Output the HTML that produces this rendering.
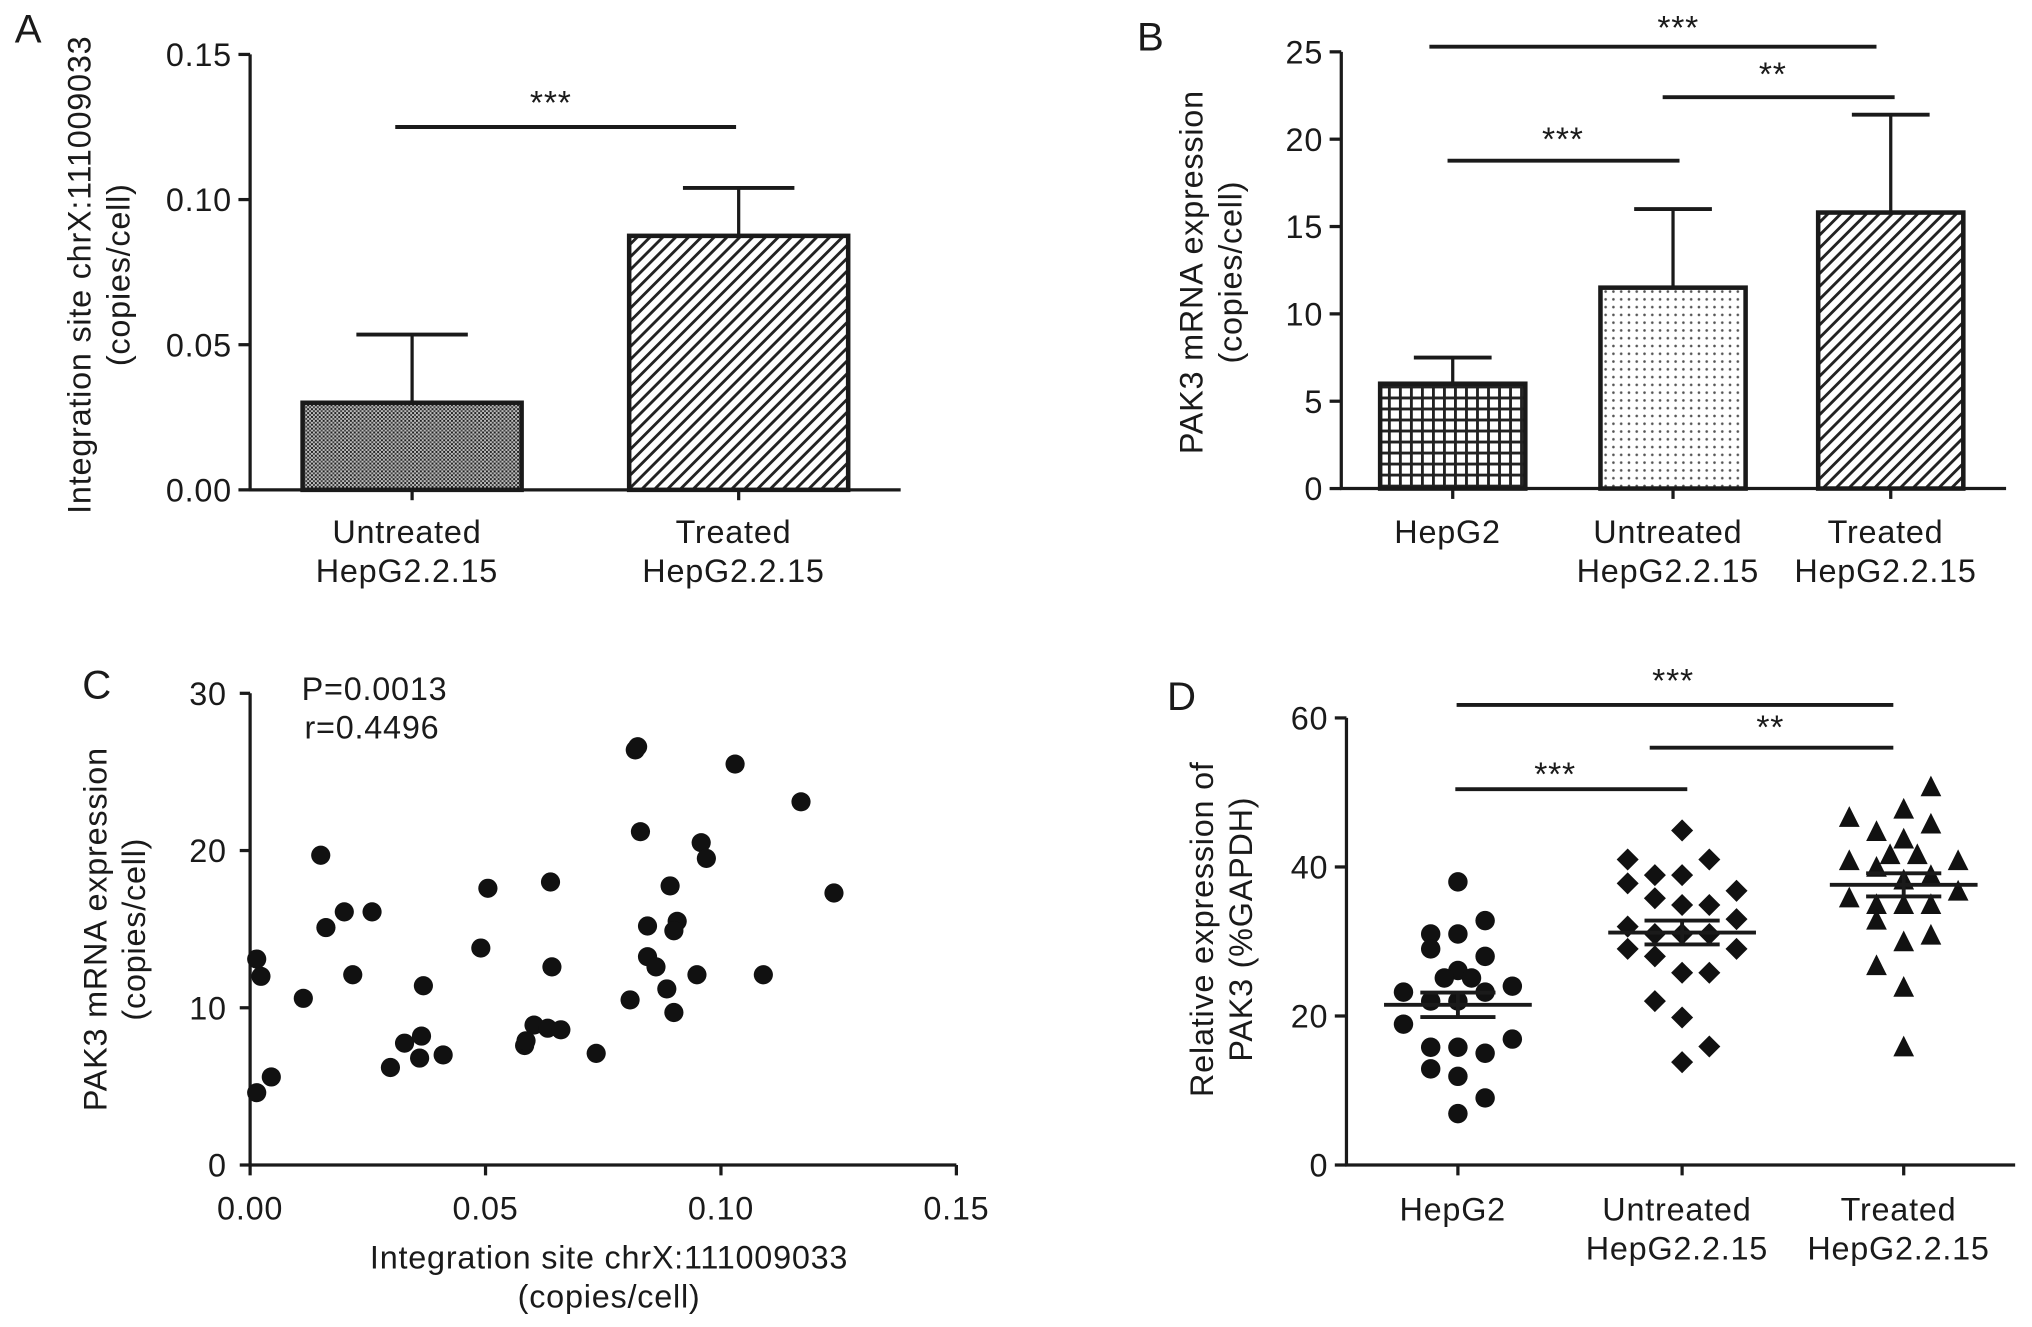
<!DOCTYPE html>
<html><head><meta charset="utf-8"><style>
html,body{margin:0;padding:0;background:#fff}
svg{display:block}
text{font-family:"Liberation Sans",Arial,sans-serif;fill:#1a1a1a;letter-spacing:0.6px}
</style></head><body>
<svg id="fig" width="2032" height="1327" viewBox="0 0 1568 1024" preserveAspectRatio="none" xmlns="http://www.w3.org/2000/svg">
<defs>
<pattern id="pCross" width="3" height="3" patternUnits="userSpaceOnUse"><rect width="3" height="3" fill="#bbb"/><rect x="0" y="0" width="1.5" height="1.5" fill="#222"/><rect x="1.5" y="1.5" width="1.5" height="1.5" fill="#444"/></pattern>
<pattern id="pDiag" width="7" height="7" patternUnits="userSpaceOnUse" patternTransform="rotate(45)"><rect width="7" height="7" fill="#fff"/><rect width="2.2" height="7" fill="#222"/></pattern>
<pattern id="pGrid" width="8.5" height="8.5" patternUnits="userSpaceOnUse"><rect width="8.5" height="8.5" fill="#fff"/><rect width="2.2" height="8.5" fill="#222"/><rect width="8.5" height="2.2" fill="#222"/></pattern>
<pattern id="pDots" width="6" height="6" patternUnits="userSpaceOnUse"><rect width="6" height="6" fill="#fff"/><circle cx="3" cy="3" r="1" fill="#555"/></pattern>
</defs>
</svg>
<script>
// Panel A data
const aCats = [["Untreated","HepG2.2.15"],["Treated","HepG2.2.15"]];
const aMeans = [0.030, 0.0875];
const aErr = [0.0235, 0.0165];
const aTicks = [0, 0.05, 0.10, 0.15];
const aTickLabels = ["0.00","0.05","0.10","0.15"];
// Panel B data
const bCats = [["HepG2"],["Untreated","HepG2.2.15"],["Treated","HepG2.2.15"]];
const bMeans = [6.0, 11.5, 15.8];
const bErr = [1.5, 4.5, 5.6];
const bTicks = [0,5,10,15,20,25];
// Panel C data
const cX = [0.0014,0.0045,0.0014,0.0023,0.0113,0.015,0.0161,0.020,0.0218,0.0259,0.0298,0.0328,0.0364,0.036,0.0368,0.041,0.049,0.0505,0.0583,0.0586,0.0603,0.0632,0.066,0.0638,0.0641,0.0735,0.0807,0.0818,0.0823,0.0829,0.0844,0.0844,0.0862,0.0885,0.0892,0.0907,0.090,0.090,0.0949,0.0958,0.0969,0.103,0.109,0.117,0.124];
const cY = [4.6,5.6,13.1,12.0,10.6,19.7,15.1,16.1,12.1,16.1,6.2,7.75,8.2,6.8,11.4,7.0,13.8,17.6,7.6,7.9,8.9,8.7,8.6,18.0,12.6,7.1,10.5,26.4,26.6,21.2,15.2,13.25,12.6,11.2,17.75,15.5,14.9,9.7,12.1,20.5,19.5,25.5,12.1,23.1,17.3];
const cXTicks = [0,0.05,0.10,0.15];
const cXTickLabels = ["0.00","0.05","0.10","0.15"];
const cYTicks = [0,10,20,30];
// Panel D data
const dCats = [["HepG2"],["Untreated","HepG2.2.15"],["Treated","HepG2.2.15"]];
const dHepG2 = [38.0,32.8,31.0,31.0,29.0,28.0,26.1,25.1,25.1,24.0,23.2,23.2,22.0,22.0,18.9,16.9,15.8,15.8,15.0,12.9,11.9,9.0,6.9];
const dHepG2Jit = [0,1,-1,0,-1,1,0,-0.5,0.5,2,-2,1,-1,0,-2,2,-1,0,1,-1,0,1,0];
const dUnt = [44.9,41.0,41.0,37.8,38.9,38.9,36.8,35.8,34.9,34.9,33.0,32.0,31.0,31.0,31.0,29.0,29.0,28.0,25.8,25.8,22.0,19.8,15.9,13.8];
const dUntJit = [0,-2,1,-2,-1,0,2,-1,0,1,2,-2,1,-1,0,-2,2,-1,0,1,-1,0,1,0];
const dTrt = [50.7,47.7,46.6,45.7,44.7,43.7,41.6,41.6,40.8,40.8,39.9,38.8,38.2,35.8,36.7,34.9,34.9,34.9,32.8,30.8,29.9,26.7,23.8,15.8];
const dTrtJit = [1,0,-2,1,-1,0,-0.5,0.5,-2,2,-1,1,0,-2,2,-1,0,1,-1,1,0,-1,0,0];
const dMeans = [21.5,31.2,37.6];
const dSem = [1.65,1.6,1.55];
const dTicks = [0,20,40,60];

const FS = 25, TS = 25;
const svg = document.getElementById('fig');
const NS = 'http://www.w3.org/2000/svg';
function mk(tag, attrs, parent){const e=document.createElementNS(NS,tag);for(const k in attrs)e.setAttribute(k,attrs[k]);(parent||svg).appendChild(e);return e;}
function txt(s,x,y,size,anchor,parent,rot){const t=mk('text',{x:x,y:y,'font-size':size,'text-anchor':anchor||'middle'},parent);if(rot)t.setAttribute('transform','rotate(-90 '+x+' '+y+')');t.textContent=s;return t;}
function line(x1,y1,x2,y2,w,parent){return mk('line',{x1:x1,y1:y1,x2:x2,y2:y2,stroke:'#1a1a1a','stroke-width':w||2.5},parent);}
function lin(d0,d1,r0,r1){return v=>r0+(v-d0)/(d1-d0)*(r1-r0);}
function stars(s,x,y,g){const t=txt(s,x,y,26,'middle',g);t.setAttribute('fill','#555');t.setAttribute('letter-spacing','3px');return t;}

// ---------- Panel A ----------
{
const g=mk('g',{});


const y=lin(0,0.15,378,42), x0=193, x1=695;
txt('A',22,33,31,'middle',g);
line(x0,42,x0,379,2.5,g); line(x0-1,378,x1,378,2.5,g);
aTicks.forEach((t,i)=>{line(x0-9,y(t),x0,y(t),2.5,g);txt(aTickLabels[i],x0-14,y(t)+9,FS,'end',g);});
const cx=[318,570], bw=169, fills=['url(#pCross)','url(#pDiag)'];
aMeans.forEach((m,i)=>{
  const top=y(aMeans[i]), et=y(aMeans[i]+aErr[i]);
  line(cx[i],top,cx[i],et,2.5,g); line(cx[i]-43,et,cx[i]+43,et,3,g);
  const r=mk('rect',{x:cx[i]-bw/2,y:top,width:bw,height:378-top,fill:fills[i],stroke:'#1a1a1a','stroke-width':3.5},g);
  
  
  line(cx[i],378,cx[i],386,2.5,g);
  aCats[i].forEach((s,k)=>txt(s,cx[i]-4,419+k*30,FS,'middle',g));
});
line(305,98,568,98,3,g); stars('***',425,88,g);
txt('Integration site chrX:111009033',70,212,TS,'middle',g,true);
txt('(copies/cell)',100,212,TS,'middle',g,true);
}
// ---------- Panel B ----------
{
const g=mk('g',{});


const y=lin(0,25,377,40), x0=1035, x1=1548;
txt('B',888,39,31,'middle',g);
line(x0,40,x0,378,2.5,g); line(x0-1,377,x1,377,2.5,g);
bTicks.forEach(t=>{line(x0-9,y(t),x0,y(t),2.5,g);txt(String(t),x0-14,y(t)+9,FS,'end',g);});
const cx=[1121,1291,1459], bw=112, fills=['url(#pGrid)','url(#pDots)','url(#pDiag)'];
bMeans.forEach((m,i)=>{
  const top=y(m), et=y(m+bErr[i]);
  line(cx[i],top,cx[i],et,2.5,g); line(cx[i]-30,et,cx[i]+30,et,3,g);
  const r=mk('rect',{x:cx[i]-bw/2,y:top,width:bw,height:377-top,fill:fills[i],stroke:'#1a1a1a','stroke-width':3.5},g);
  
  
  line(cx[i],377,cx[i],385,2.5,g);
  bCats[i].forEach((s,k)=>txt(s,cx[i]-4,419+k*30,FS,'middle',g));
});
line(1103,36,1448,36,3,g); stars('***',1295,30,g);
line(1283,75,1462,75,3,g); stars('**',1368,66,g);
line(1117,124,1296,124,3,g); stars('***',1206,116,g);
txt('PAK3 mRNA expression',928,210,TS,'middle',g,true);
txt('(copies/cell)',958,210,TS,'middle',g,true);
}
// ---------- Panel C ----------
{
const g=mk('g',{});


const x=lin(0,0.15,193,738), y=lin(0,30,899,535);
txt('C',75,539,31,'middle',g);
line(193,535,193,900,2.5,g); line(192,899,738,899,2.5,g);
cYTicks.forEach(t=>{line(185,y(t),193,y(t),2.5,g);txt(String(t),175,y(t)+9,FS,'end',g);});
cXTicks.forEach((t,i)=>{line(x(t),899,x(t),907,2.5,g);txt(cXTickLabels[i],x(t),941,FS,'middle',g);});
cX.forEach((v,i)=>{const c=mk('circle',{cx:x(v),cy:y(cY[i]),r:7.4,fill:'#111'},g);
  
  });
txt('P=0.0013',289,540,FS,'middle',g); txt('r=0.4496',287,570,FS,'middle',g);
txt('Integration site chrX:111009033',470,979,TS,'middle',g);
txt('(copies/cell)',470,1009,TS,'middle',g);
txt('PAK3 mRNA expression',82,717,TS,'middle',g,true);
txt('(copies/cell)',112,717,TS,'middle',g,true);
}
// ---------- Panel D ----------
{
const g=mk('g',{});


const y=lin(0,60,899,554), x0=1039, x1=1555;
txt('D',912,548,31,'middle',g);
line(x0,554,x0,900,2.5,g); line(x0-1,899,x1,899,2.5,g);
dTicks.forEach(t=>{line(x0-9,y(t),x0,y(t),2.5,g);txt(String(t),x0-14,y(t)+9,FS,'end',g);});
const cx=[1125,1298,1469], jw=21;
dCats.forEach((c,i)=>{line(cx[i],899,cx[i],907,2.5,g);c.forEach((s,k)=>txt(s,cx[i]-4,942+k*30,FS,'middle',g));});
dHepG2.forEach((v,i)=>{const e=mk('circle',{cx:cx[0]+dHepG2Jit[i]*jw,cy:y(v),r:7.5,fill:'#111'},g);
  
  });
dUnt.forEach((v,i)=>{const px=cx[1]+dUntJit[i]*jw,py=y(v),s=8.5;
  const e=mk('polygon',{points:`${px},${py-s} ${px+s},${py} ${px},${py+s} ${px-s},${py}`,fill:'#111'},g);
  
  });
dTrt.forEach((v,i)=>{const px=cx[2]+dTrtJit[i]*jw,py=y(v),s=8;
  const e=mk('polygon',{points:`${px},${py-s-1} ${px+s},${py+s-1} ${px-s},${py+s-1}`,fill:'#111'},g);
  
  });
dMeans.forEach((m,i)=>{
  line(cx[i]-57,y(m),cx[i]+57,y(m),3,g);
  line(cx[i]-29,y(m+dSem[i]),cx[i]+29,y(m+dSem[i]),3,g);
  line(cx[i]-29,y(m-dSem[i]),cx[i]+29,y(m-dSem[i]),3,g);
  line(cx[i],y(m+dSem[i]),cx[i],y(m-dSem[i]),3,g);
});
line(1124,544,1461,544,3,g); stars('***',1291,534,g);
line(1273,577,1461,577,3,g); stars('**',1366,570,g);
line(1123,609,1302,609,3,g); stars('***',1200,606,g);
txt('Relative expression of',936,717,TS,'middle',g,true);
txt('PAK3 (%GAPDH)',966,717,TS,'middle',g,true);
}
</script>
</body></html>
